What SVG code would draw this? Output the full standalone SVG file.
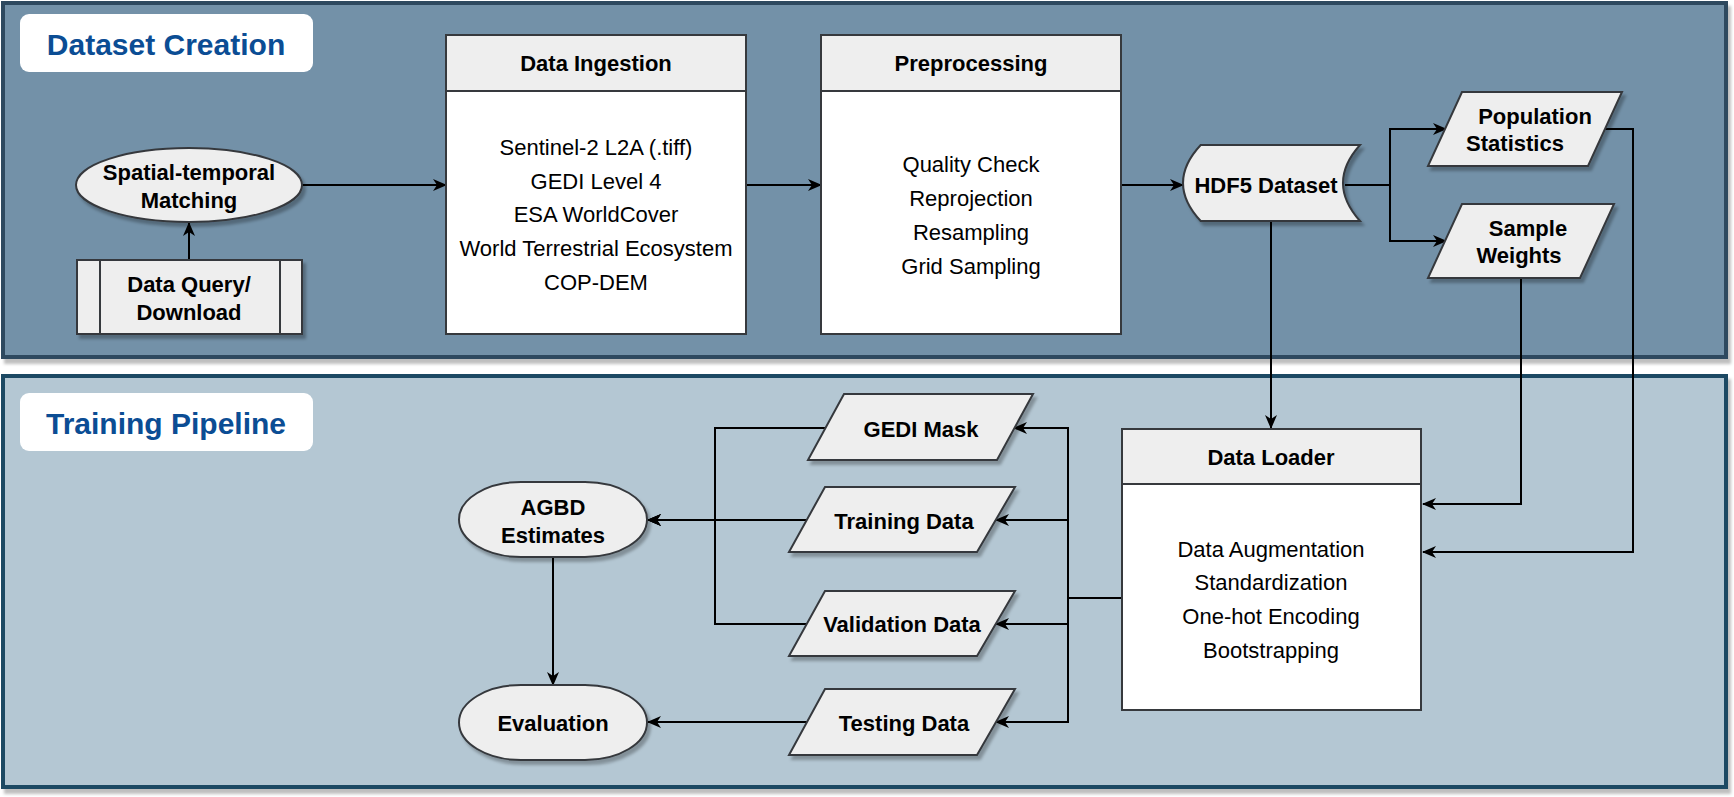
<svg xmlns="http://www.w3.org/2000/svg" width="1734" height="797" viewBox="0 0 1734 797">
<style>
text{font-family:"Liberation Sans",Arial,sans-serif;fill:#000;text-anchor:middle;dominant-baseline:central}
.b{font-weight:bold;font-size:22px}
.r{font-size:22px}
.title{font-weight:bold;font-size:30px;fill:#0b4d94}
.shape{fill:#eeeeee;stroke:#36393d;stroke-width:2}
.body{fill:#ffffff;stroke:#36393d;stroke-width:2}
.edge{fill:none;stroke:#000;stroke-width:2}
</style>
<defs>
<filter id="sh" x="-10%" y="-10%" width="130%" height="140%">
<feDropShadow dx="3" dy="4" stdDeviation="1.5" flood-color="#000" flood-opacity="0.28"/>
</filter>
<filter id="psh" x="-2%" y="-2%" width="104%" height="106%">
<feDropShadow dx="3" dy="5" stdDeviation="1.5" flood-color="#000" flood-opacity="0.25"/>
</filter>
<marker id="arr" markerUnits="userSpaceOnUse" markerWidth="14" markerHeight="12" refX="13" refY="6" orient="auto">
<path d="M0,0 L14,6 L0,12 L4,6 Z" fill="#000"/>
</marker>
</defs>

<g id="panel-dataset">
<rect x="3" y="3" width="1723" height="354" fill="#7391a8" stroke="#2d495e" stroke-width="4" filter="url(#psh)"/>
<rect x="20" y="14" width="293" height="58" rx="9" fill="#ffffff"/>
<text class="title" x="166" y="44">Dataset Creation</text>
</g>
<g id="panel-training">
<rect x="3" y="376" width="1723" height="411" fill="#b4c7d3" stroke="#1a4864" stroke-width="4" filter="url(#psh)"/>
<rect x="20" y="393" width="293" height="58" rx="9" fill="#ffffff"/>
<text class="title" x="166" y="423">Training Pipeline</text>
</g>

<g id="connectors">
<path class="edge" d="M189,260 V223" marker-end="url(#arr)"/>
<path class="edge" d="M302,185 H446" marker-end="url(#arr)"/>
<path class="edge" d="M746,185 H821" marker-end="url(#arr)"/>
<path class="edge" d="M1121,185 H1183" marker-end="url(#arr)"/>
<path class="edge" d="M1345,185 H1390 V129 H1446" marker-end="url(#arr)"/>
<path class="edge" d="M1345,185 H1390 V241 H1446" marker-end="url(#arr)"/>
<path class="edge" d="M1271,221 V428" marker-end="url(#arr)"/>
<path class="edge" d="M1521,278 V504 H1423" marker-end="url(#arr)"/>
<path class="edge" d="M1605,129 H1633 V552 H1423" marker-end="url(#arr)"/>
<path class="edge" d="M1122,598 H1068 V428 H1014" marker-end="url(#arr)"/>
<path class="edge" d="M1122,598 H1068 V520 H996" marker-end="url(#arr)"/>
<path class="edge" d="M1122,598 H1068 V624 H996" marker-end="url(#arr)"/>
<path class="edge" d="M1122,598 H1068 V722 H996" marker-end="url(#arr)"/>
<path class="edge" d="M826,428 H715 V520 H648" marker-end="url(#arr)"/>
<path class="edge" d="M807,520 H648" marker-end="url(#arr)"/>
<path class="edge" d="M807,624 H715 V520 H648" marker-end="url(#arr)"/>
<path class="edge" d="M553,557 V685" marker-end="url(#arr)"/>
<path class="edge" d="M807,722 H648" marker-end="url(#arr)"/>
</g>

<g id="spatial-temporal-matching">
<ellipse class="shape" cx="189" cy="185" rx="113" ry="37" filter="url(#sh)"/>
<text class="b" x="189" y="172">Spatial-temporal</text>
<text class="b" x="189" y="200">Matching</text>
</g>
<g id="data-query-download">
<rect class="shape" x="77" y="260" width="225" height="74" filter="url(#sh)"/>
<line x1="100" y1="260" x2="100" y2="334" stroke="#36393d" stroke-width="2"/>
<line x1="280" y1="260" x2="280" y2="334" stroke="#36393d" stroke-width="2"/>
<text class="b" x="189" y="284">Data Query/</text>
<text class="b" x="189" y="312">Download</text>
</g>
<g id="data-ingestion">
<rect class="body" x="446" y="35" width="300" height="299"/>
<rect class="shape" x="446" y="35" width="300" height="56"/>
<text class="b" x="596" y="63">Data Ingestion</text>
<text class="r" x="596" y="147">Sentinel-2 L2A (.tiff)</text>
<text class="r" x="596" y="181">GEDI Level 4</text>
<text class="r" x="596" y="214">ESA WorldCover</text>
<text class="r" x="596" y="248">World Terrestrial Ecosystem</text>
<text class="r" x="596" y="282">COP-DEM</text>
</g>
<g id="preprocessing">
<rect class="body" x="821" y="35" width="300" height="299"/>
<rect class="shape" x="821" y="35" width="300" height="56"/>
<text class="b" x="971" y="63">Preprocessing</text>
<text class="r" x="971" y="164">Quality Check</text>
<text class="r" x="971" y="198">Reprojection</text>
<text class="r" x="971" y="232">Resampling</text>
<text class="r" x="971" y="266">Grid Sampling</text>
</g>
<g id="hdf5-dataset">
<path class="shape" d="M1200.7,145 L1360,145 Q1326,183 1360,221 L1200.7,221 Q1165.3,183 1200.7,145 Z" filter="url(#sh)"/>
<text class="b" x="1266" y="185">HDF5 Dataset</text>
</g>
<g id="population-statistics">
<path class="shape" d="M1462,92 L1622,92 L1588,166 L1428,166 Z" filter="url(#sh)"/>
<text class="b" x="1535" y="116">Population</text>
<text class="b" x="1515" y="143">Statistics</text>
</g>
<g id="sample-weights">
<path class="shape" d="M1462,204 L1614,204 L1580,278 L1428,278 Z" filter="url(#sh)"/>
<text class="b" x="1528" y="228">Sample</text>
<text class="b" x="1519" y="255">Weights</text>
</g>
<g id="data-loader">
<rect class="body" x="1122" y="429" width="299" height="281"/>
<rect class="shape" x="1122" y="429" width="299" height="55"/>
<text class="b" x="1271" y="457">Data Loader</text>
<text class="r" x="1271" y="549">Data Augmentation</text>
<text class="r" x="1271" y="582">Standardization</text>
<text class="r" x="1271" y="616">One-hot Encoding</text>
<text class="r" x="1271" y="650">Bootstrapping</text>
</g>
<g id="gedi-mask">
<path class="shape" d="M844,394 L1033,394 L997,460 L808,460 Z" filter="url(#sh)"/>
<text class="b" x="921" y="429">GEDI Mask</text>
</g>
<g id="training-data">
<path class="shape" d="M825,487 L1015,487 L977,552 L789,552 Z" filter="url(#sh)"/>
<text class="b" x="904" y="521">Training Data</text>
</g>
<g id="validation-data">
<path class="shape" d="M825,591 L1015,591 L977,656 L789,656 Z" filter="url(#sh)"/>
<text class="b" x="902" y="624">Validation Data</text>
</g>
<g id="testing-data">
<path class="shape" d="M825,689 L1015,689 L977,755 L789,755 Z" filter="url(#sh)"/>
<text class="b" x="904" y="723">Testing Data</text>
</g>
<g id="agbd-estimates">
<rect class="shape" x="459" y="482" width="188" height="75" rx="62" ry="37.5" filter="url(#sh)"/>
<text class="b" x="553" y="507">AGBD</text>
<text class="b" x="553" y="535">Estimates</text>
</g>
<g id="evaluation">
<rect class="shape" x="459" y="685" width="188" height="75" rx="62" ry="37.5" filter="url(#sh)"/>
<text class="b" x="553" y="723">Evaluation</text>
</g>
</svg>
